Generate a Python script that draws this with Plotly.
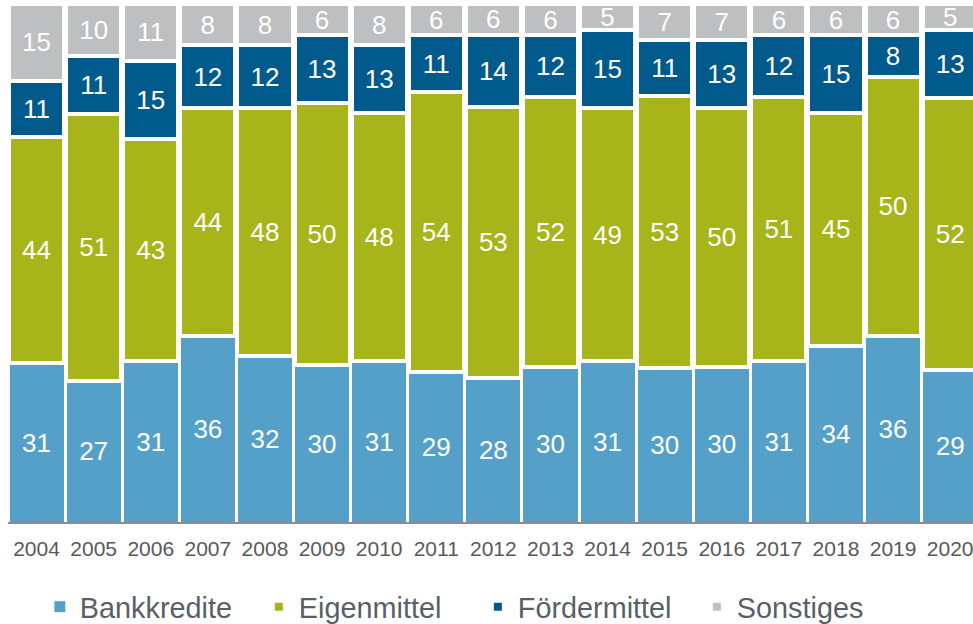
import plotly.graph_objects as go

years = ["2004", "2005", "2006", "2007", "2008", "2009", "2010", "2011", "2012",
         "2013", "2014", "2015", "2016", "2017", "2018", "2019", "2020"]
bankkredite = [31, 27, 31, 36, 32, 30, 31, 29, 28, 30, 31, 30, 30, 31, 34, 36, 29]
eigenmittel = [44, 51, 43, 44, 48, 50, 48, 54, 53, 52, 49, 53, 50, 51, 45, 50, 52]
foerdermittel = [11, 11, 15, 12, 12, 13, 13, 11, 14, 12, 15, 11, 13, 12, 15, 8, 13]
sonstiges = [15, 10, 11, 8, 8, 6, 8, 6, 6, 6, 5, 7, 7, 6, 6, 6, 5]

series = [
    ("Bankkredite", bankkredite, "#55A0C8", 1),
    ("Eigenmittel", eigenmittel, "#A7B51A", 4),
    ("Fördermittel", foerdermittel, "#005A8B", 4),
    ("Sonstiges", sonstiges, "#BDBFC1", 4),
]

FONT = "Liberation Sans, Arial, sans-serif"

fig = go.Figure()
for name, vals, color, lw in series:
    fig.add_trace(go.Bar(
        name=name, x=years, y=vals, text=vals, texttemplate="%{text}",
        textposition="inside", insidetextanchor="middle", textangle=0,
        textfont=dict(color="white", size=26, family=FONT),
        marker=dict(color=color, line=dict(color="white", width=lw)),
        hoverinfo="x+y+name",
    ))

fig.update_layout(
    barmode="stack", barnorm="percent", bargap=0.035,
    width=973, height=624,
    margin=dict(l=8, r=0, t=4, b=102),
    paper_bgcolor="white", plot_bgcolor="white",
    font=dict(family=FONT, color="#595F66"),
    uniformtext=dict(minsize=26, mode="show"),
    showlegend=True,
    legend=dict(orientation="h", x=0.033, xanchor="left",
                yref="container", y=(624 - 607) / 624, yanchor="middle",
                font=dict(size=28.8, color="#595F66", family=FONT), traceorder="normal",
                entrywidth=174, entrywidthmode="pixels", itemclick=False),
)
fig.update_xaxes(showline=True, linecolor="#8C8C8C", linewidth=2, ticks="",
                 tickfont=dict(size=21, color="#595959", family=FONT), ticklabelstandoff=7,
                 showgrid=False, range=[-0.5, 16.4])
fig.update_yaxes(range=[0, 100], visible=False, showgrid=False)

fig.write_html("out.html", config={"displayModeBar": False},
               post_script="document.body.style.margin='0px';document.body.style.overflow='hidden';")
